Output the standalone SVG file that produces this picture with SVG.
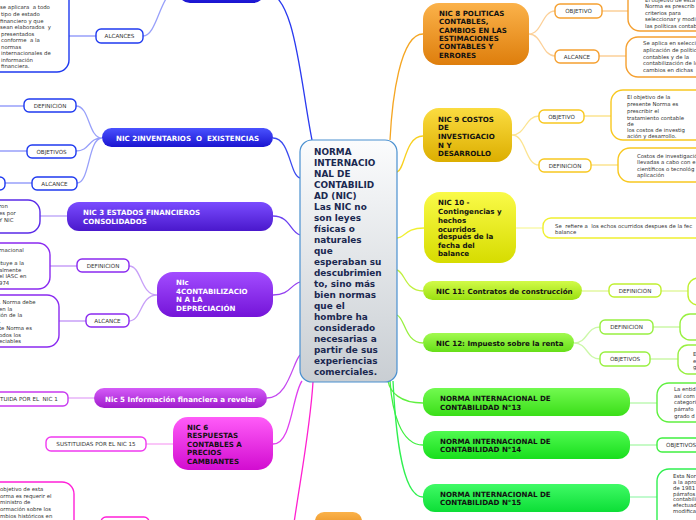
<svg xmlns="http://www.w3.org/2000/svg" width="696" height="520" viewBox="0 0 696 520">
<defs>
<linearGradient id="gC" x1="0" y1="0" x2="0" y2="1"><stop offset="0" stop-color="#fbfcfd"/><stop offset="1" stop-color="#c9ced3"/></linearGradient>
<linearGradient id="g1" x1="0" y1="0" x2="0" y2="1"><stop offset="0" stop-color="#4a52ff"/><stop offset="1" stop-color="#1a14d0"/></linearGradient>
<linearGradient id="g3" x1="0" y1="0" x2="0" y2="1"><stop offset="0" stop-color="#7a4cff"/><stop offset="1" stop-color="#4a18cc"/></linearGradient>
<linearGradient id="g4" x1="0" y1="0" x2="0" y2="1"><stop offset="0" stop-color="#a24cff"/><stop offset="1" stop-color="#7414d8"/></linearGradient>
<linearGradient id="g5" x1="0" y1="0" x2="0" y2="1"><stop offset="0" stop-color="#d45cf8"/><stop offset="1" stop-color="#a01ccc"/></linearGradient>
<linearGradient id="g6" x1="0" y1="0" x2="0" y2="1"><stop offset="0" stop-color="#ff5cf8"/><stop offset="1" stop-color="#d20cd0"/></linearGradient>
<linearGradient id="g8" x1="0" y1="0" x2="0" y2="1"><stop offset="0" stop-color="#fbb24a"/><stop offset="1" stop-color="#de7e0c"/></linearGradient>
<linearGradient id="g9" x1="0" y1="0" x2="0" y2="1"><stop offset="0" stop-color="#fbdc40"/><stop offset="1" stop-color="#dcae00"/></linearGradient>
<linearGradient id="g10" x1="0" y1="0" x2="0" y2="1"><stop offset="0" stop-color="#fafa48"/><stop offset="1" stop-color="#d6dc00"/></linearGradient>
<linearGradient id="g11" x1="0" y1="0" x2="0" y2="1"><stop offset="0" stop-color="#d2fa48"/><stop offset="1" stop-color="#9ae010"/></linearGradient>
<linearGradient id="g12" x1="0" y1="0" x2="0" y2="1"><stop offset="0" stop-color="#a2fa50"/><stop offset="1" stop-color="#66de18"/></linearGradient>
<linearGradient id="g13" x1="0" y1="0" x2="0" y2="1"><stop offset="0" stop-color="#72fa50"/><stop offset="1" stop-color="#3ade18"/></linearGradient>
<linearGradient id="g14" x1="0" y1="0" x2="0" y2="1"><stop offset="0" stop-color="#50fa50"/><stop offset="1" stop-color="#18de1c"/></linearGradient>
<linearGradient id="g15" x1="0" y1="0" x2="0" y2="1"><stop offset="0" stop-color="#40fa66"/><stop offset="1" stop-color="#0cde36"/></linearGradient>
<style>
.c{fill:none;stroke-width:1.3}
.b{fill:#fff;stroke-width:1.4}
.nt{font-family:"DejaVu Sans",Verdana,sans-serif;font-weight:bold;font-size:7.1px}
.w{fill:#fff}
.k{fill:#111}
.lt{font-family:"DejaVu Sans",Verdana,sans-serif;font-size:5.6px;fill:#333;text-anchor:middle}
.ls{text-anchor:start}
.lf{font-family:"DejaVu Sans",Verdana,sans-serif;font-size:5.4px;fill:#333}
.pre{white-space:pre}
.ct{font-family:"DejaVu Sans",Verdana,sans-serif;font-weight:bold;font-size:8.9px;fill:#1a2850}
</style>
</defs>
<rect width="696" height="520" fill="#fff"/>

<g id="connectors">
<path class="c" stroke="#2a3af0" d="M265,-8 C295,-8 300,80 312,140"/>
<path class="c" stroke="#3a4af0" d="M273,138 C290,138 290,176 300,178"/>
<path class="c" stroke="#6a40f0" d="M273,216 C290,216 290,232 300,235"/>
<path class="c" stroke="#9440f0" d="M273,295 C290,295 290,285 300,282"/>
<path class="c" stroke="#c448f0" d="M267,398 C288,398 293,362 300,355"/>
<path class="c" stroke="#e040f0" d="M273,444 C292,444 292,395 302,381"/>
<path class="c" stroke="#ff20d0" d="M313,382 C310,430 300,480 293,530"/>
<path class="c" stroke="#f5a623" d="M423,34 C400,34 392,100 390,140"/>
<path class="c" stroke="#f8d020" d="M423,136 C405,136 405,170 397,172"/>
<path class="c" stroke="#f0f030" d="M424,228 C405,228 405,238 397,238"/>
<path class="c" stroke="#c0f040" d="M423,291 C405,291 405,272 397,270"/>
<path class="c" stroke="#98f040" d="M423,343 C405,343 405,318 397,315"/>
<path class="c" stroke="#60f040" d="M423,403 C400,403 390,392 388,381"/>
<path class="c" stroke="#40f040" d="M423,445 C400,445 392,410 390,381"/>
<path class="c" stroke="#30f050" d="M423,497 C400,497 395,420 393,381"/>

<path class="c" stroke="#98a0fa" d="M143,36 C158,36 160,-10 178,-10 M69,36 L96,36"/>
<path class="c" stroke="#98a0fa" d="M102,138 C88,138 90,106 76,106 M102,138 C88,138 90,151 76,151 M102,138 C88,138 90,183 77,183 M24,106 L0,106 M27,151 L0,151 M32,183 L5,183"/>
<path class="c" stroke="#b8a0f8" d="M67,216 L40,216"/>
<path class="c" stroke="#c8a0f8" d="M157,295 C140,295 142,266 129,266 M157,295 C140,295 142,321 129,321 M77,266 L50,266 M86,321 L59,321"/>
<path class="c" stroke="#e4a8f8" d="M94,398 L68,398"/>
<path class="c" stroke="#f8a8f4" d="M173,444 L146,444"/>
<path class="c" stroke="#fcd098" d="M529,34 C542,34 542,11 555,11 M529,34 C542,34 542,56 555,56 M602,11 L628,11 M599,56 L626,56"/>
<path class="c" stroke="#fce490" d="M512,135 C526,135 525,116 539,116 M512,135 C526,135 525,165 539,165 M584,116 L611,116 M591,165 L618,165"/>
<path class="c" stroke="#f8f8a0" d="M516,228 L543,228"/>
<path class="c" stroke="#e2f8a0" d="M582,291 L609,291 M661,291 L688,291"/>
<path class="c" stroke="#ccf8a8" d="M574,343 C588,343 586,327 600,327 M574,343 C588,343 586,359 600,359 M653,327 L680,327 M650,359 L678,359"/>
<path class="c" stroke="#b4f8a8" d="M630,403 L657,403"/>
<path class="c" stroke="#a8f8a8" d="M630,445 L657,445"/>
<path class="c" stroke="#a0f8b4" d="M630,497 L657,497"/>
</g>

<g id="central">
<rect x="300" y="140" width="97" height="242" rx="12" fill="url(#gC)" stroke="#4a90d0" stroke-width="1.2"/>
<text class="ct"><tspan x="314" y="155">NORMA</tspan><tspan x="314" y="166">INTERNACIO</tspan><tspan x="314" y="177">NAL DE</tspan><tspan x="314" y="188">CONTABILID</tspan><tspan x="314" y="199">AD (NIC)</tspan><tspan x="314" y="210">Las NIC no</tspan><tspan x="314" y="221">son leyes</tspan><tspan x="314" y="232">físicas o</tspan><tspan x="314" y="243">naturales</tspan><tspan x="314" y="254">que</tspan><tspan x="314" y="265">esperaban su</tspan><tspan x="314" y="276">descubrimien</tspan><tspan x="314" y="287">to, sino más</tspan><tspan x="314" y="298">bien normas</tspan><tspan x="314" y="309">que el</tspan><tspan x="314" y="320">hombre ha</tspan><tspan x="314" y="331">considerado</tspan><tspan x="314" y="342">necesarias a</tspan><tspan x="314" y="353">partir de sus</tspan><tspan x="314" y="364">experiencias</tspan><tspan x="314" y="375">comerciales.</tspan></text>
</g>

<g id="nic1">
<rect x="178" y="-25" width="87" height="28" rx="12" fill="url(#g1)"/>
<rect class="b" x="96" y="29" width="47" height="14" rx="5" stroke="#1f3af0"/>
<text class="lt" x="119.5" y="38">ALCANCES</text>
<rect class="b" x="-40" y="-20" width="109" height="92" rx="12" stroke="#1f3af0"/>
<text class="lf pre"><tspan x="0" y="9">se aplicara  a todo</tspan><tspan x="1" y="16">tipo de estado</tspan><tspan x="0" y="23">financiero y que</tspan><tspan x="0" y="29">sean elaborados  y</tspan><tspan x="1" y="35.5">presentados</tspan><tspan x="1" y="42">conforme  a la</tspan><tspan x="1" y="49">normas</tspan><tspan x="1" y="55">internacionales de</tspan><tspan x="1" y="62">información</tspan><tspan x="1" y="68">financiera.</tspan></text>
</g>

<g id="nic2">
<rect x="102" y="128" width="171" height="19" rx="9.5" fill="url(#g1)"/>
<text class="nt w pre" x="187.5" y="141" text-anchor="middle">NIC 2INVENTARIOS  O  EXISTENCIAS</text>
<rect class="b" x="24" y="99" width="52" height="13" rx="5" stroke="#1f3af0"/>
<text class="lt" x="50" y="107.5">DEFINICION</text>
<rect class="b" x="27" y="145" width="49" height="13" rx="5" stroke="#1f3af0"/>
<text class="lt" x="51.5" y="153.5">OBJETIVOS</text>
<rect class="b" x="32" y="177" width="45" height="13" rx="5" stroke="#1f3af0"/>
<text class="lt" x="54.5" y="185.5">ALCANCE</text>
<rect class="b" x="-40" y="177" width="45" height="13" rx="5" stroke="#1f3af0"/>
</g>

<g id="nic3">
<rect x="67" y="202" width="206" height="29" rx="12" fill="url(#g3)"/>
<text class="nt w"><tspan x="83" y="215">NIC 3 ESTADOS FINANCIEROS</tspan><tspan x="83" y="224">CONSOLIDADOS</tspan></text>
<rect class="b" x="-60" y="200" width="100" height="33" rx="12" stroke="#5a2ae8"/>
<text class="lf"><tspan x="-1" y="208">ron</tspan><tspan x="-1" y="215">es por</tspan><tspan x="-1" y="222">Y NIC</tspan></text>
</g>

<g id="nic4">
<rect x="157" y="272" width="116" height="45" rx="16" fill="url(#g4)"/>
<text class="nt w"><tspan x="176" y="285">NIc</tspan><tspan x="176" y="293.6">4CONTABILIZACIO</tspan><tspan x="176" y="302">N A LA</tspan><tspan x="176" y="311">DEPRECIACIÓN</tspan></text>
<rect class="b" x="77" y="259" width="52" height="13" rx="5" stroke="#8a2af0"/>
<text class="lt" x="103" y="267.5">DEFINICION</text>
<rect class="b" x="86" y="314" width="43" height="13" rx="5" stroke="#8a2af0"/>
<text class="lt" x="107.5" y="322.5">ALCANCE</text>
<rect class="b" x="-60" y="243" width="110" height="46" rx="12" stroke="#8a2af0"/>
<text class="lf"><tspan x="-1" y="252">rnacional</tspan><tspan x="-1" y="265">ituye a la</tspan><tspan x="-1" y="272">almente</tspan><tspan x="-1" y="278">el IASC en</tspan><tspan x="-1" y="285">974</tspan></text>
<rect class="b" x="-60" y="295" width="119" height="52" rx="12" stroke="#8a2af0"/>
<text class="lf"><tspan x="-1" y="304">. Norma debe</tspan><tspan x="-1" y="311">en la</tspan><tspan x="-1" y="317">ión de la</tspan><tspan x="-1" y="323">.</tspan><tspan x="-1" y="330">te Norma es</tspan><tspan x="-1" y="337">odos los</tspan><tspan x="-1" y="343">eciables</tspan></text>
</g>

<g id="nic5">
<rect x="94" y="388" width="173" height="20" rx="10" fill="url(#g5)"/>
<text class="nt w" x="180.5" y="401.5" text-anchor="middle">Nic 5 Información financiera a revelar</text>
<rect class="b" x="-40" y="392" width="108" height="14" rx="5" stroke="#c83af0"/>
<text class="lt ls pre" x="0" y="401">TUIDA POR EL  NIC 1</text>
</g>

<g id="nic6">
<rect x="173" y="417" width="100" height="53" rx="15" fill="url(#g6)"/>
<text class="nt k"><tspan x="187" y="430">NIC 6</tspan><tspan x="187" y="438.3">RESPUESTAS</tspan><tspan x="187" y="447">CONTABLES A</tspan><tspan x="187" y="455.3">PRECIOS</tspan><tspan x="187" y="464">CAMBIANTES</tspan></text>
<rect class="b" x="46" y="437" width="100" height="14" rx="5" stroke="#f03af0"/>
<text class="lt" x="96" y="446">SUSTITUIDAS POR EL NIC 15</text>
</g>

<g id="nic7">
<rect class="b" x="-40" y="482" width="114" height="60" rx="12" stroke="#ff20d8"/>
<text class="lf"><tspan x="0" y="491">objetivo de esta</tspan><tspan x="0" y="498">orma es requerir el</tspan><tspan x="0" y="504">ministro de</tspan><tspan x="0" y="511">ormación sobre los</tspan><tspan x="0" y="518">mbios históricos en</tspan></text>
<rect class="b" x="101" y="517" width="48" height="14" rx="5" stroke="#ff20d8"/>
</g>

<g id="nic-bottom">
<rect x="315" y="512" width="47" height="25" rx="9" fill="url(#g8)"/>
</g>

<g id="nic8">
<rect x="423" y="3" width="106" height="62" rx="16" fill="url(#g8)"/>
<text class="nt k"><tspan x="439" y="16">NIC 8 POLITICAS</tspan><tspan x="439" y="24.3">CONTABLES,</tspan><tspan x="439" y="32.7">CAMBIOS EN LAS</tspan><tspan x="439" y="41">ESTIMACIONES</tspan><tspan x="439" y="49.3">CONTABLES Y</tspan><tspan x="439" y="58">ERRORES</tspan></text>
<rect class="b" x="555" y="4" width="47" height="14" rx="5" stroke="#f5a030"/>
<text class="lt" x="578.5" y="13">OBJETIVO</text>
<rect class="b" x="555" y="50" width="44" height="13" rx="5" stroke="#f5a030"/>
<text class="lt" x="577" y="58.5">ALCANCE</text>
<rect class="b" x="628" y="-20" width="100" height="51" rx="12" stroke="#f5a030"/>
<text class="lf"><tspan x="645" y="2">El objetivo de esta</tspan><tspan x="645" y="8">Norma es prescrib</tspan><tspan x="645" y="14.5">criterios para</tspan><tspan x="645" y="21">seleccionar y modi</tspan><tspan x="645" y="27.5">las políticas contab</tspan></text>
<rect class="b" x="626" y="37" width="100" height="40" rx="12" stroke="#f5a030"/>
<text class="lf"><tspan x="643" y="45">Se aplica en selecci</tspan><tspan x="643" y="52">aplicación de polític</tspan><tspan x="643" y="58.5">contables y de la</tspan><tspan x="643" y="65">contabilización de lo</tspan><tspan x="643" y="72">cambios en dichas</tspan></text>
</g>

<g id="nic9">
<rect x="423" y="108" width="89" height="54" rx="16" fill="url(#g9)"/>
<text class="nt k"><tspan x="438" y="122">NIC 9 COSTOS</tspan><tspan x="438" y="130.3">DE</tspan><tspan x="438" y="139.3">INVESTIGACIO</tspan><tspan x="438" y="147.7">N Y</tspan><tspan x="438" y="156">DESARROLLO</tspan></text>
<rect class="b" x="539" y="110" width="45" height="13" rx="5" stroke="#f8c820"/>
<text class="lt" x="561.5" y="118.5">OBJETIVO</text>
<rect class="b" x="539" y="159" width="52" height="13" rx="5" stroke="#f8c820"/>
<text class="lt" x="565" y="167.5">DEFINICION</text>
<rect class="b" x="611" y="90" width="110" height="50" rx="12" stroke="#f8c820"/>
<text class="lf"><tspan x="627" y="99">El objetivo de la</tspan><tspan x="627" y="106">presente Norma es</tspan><tspan x="627" y="112.5">prescribir el</tspan><tspan x="627" y="119.5">tratamiento contable</tspan><tspan x="627" y="125.5">de</tspan><tspan x="627" y="132">los costos de investig</tspan><tspan x="627" y="138">ación y desarrollo.</tspan></text>
<rect class="b" x="618" y="148" width="100" height="34" rx="12" stroke="#f8c820"/>
<text class="lf"><tspan x="637" y="158">Costos de investigació</tspan><tspan x="637" y="164">llevadas a cabo con e</tspan><tspan x="637" y="171">científicos o tecnológ</tspan><tspan x="637" y="177">aplicación</tspan></text>
</g>

<g id="nic10">
<rect x="424" y="192" width="92" height="71" rx="16" fill="url(#g10)"/>
<text class="nt k"><tspan x="438" y="205">NIC 10 -</tspan><tspan x="438" y="214.3">Contingencias y</tspan><tspan x="438" y="222.7">hechos</tspan><tspan x="438" y="231.7">ocurridos</tspan><tspan x="438" y="239.3">después de la</tspan><tspan x="438" y="248.3">fecha del</tspan><tspan x="438" y="256">balance</tspan></text>
<rect class="b" x="543" y="218" width="180" height="20" rx="8" stroke="#f0f030"/>
<text class="lf pre"><tspan x="555" y="227.5">Se  refiere a  los echos ocurridos despues de la fec</tspan><tspan x="555" y="233.5">balance</tspan></text>
</g>

<g id="nic11">
<rect x="423" y="281" width="159" height="19" rx="9.5" fill="url(#g11)"/>
<text class="nt k" x="436" y="293.6">NIC 11: Contratos de construcción</text>
<rect class="b" x="609" y="284" width="52" height="13" rx="5" stroke="#c0f030"/>
<text class="lt" x="635" y="292.5">DEFINICION</text>
<rect class="b" x="688" y="278" width="40" height="27" rx="10" stroke="#c0f030"/>
</g>

<g id="nic12">
<rect x="423" y="333" width="151" height="19" rx="9.5" fill="url(#g12)"/>
<text class="nt k" x="436" y="346">NIC 12: Impuesto sobre la renta</text>
<rect class="b" x="600" y="320" width="53" height="14" rx="5" stroke="#98f040"/>
<text class="lt" x="626.5" y="329">DEFINICION</text>
<rect class="b" x="600" y="352" width="50" height="14" rx="5" stroke="#98f040"/>
<text class="lt" x="625" y="361">OBJETIVOS</text>
<rect class="b" x="680" y="314" width="40" height="26" rx="10" stroke="#98f040"/>
<rect class="b" x="678" y="345" width="40" height="29" rx="10" stroke="#98f040"/>
<text class="lf"><tspan x="693" y="356">E</tspan><tspan x="693" y="363">e</tspan><tspan x="693" y="369">g</tspan></text>
</g>

<g id="nic13">
<rect x="423" y="388" width="207" height="28" rx="12" fill="url(#g13)"/>
<text class="nt k"><tspan x="440" y="401">NORMA INTERNACIONAL DE</tspan><tspan x="440" y="410">CONTABILIDAD N°13</tspan></text>
<rect class="b" x="657" y="383" width="60" height="39" rx="12" stroke="#60f040"/>
<text class="lf"><tspan x="674" y="391">La entid</tspan><tspan x="674" y="397.5">así com</tspan><tspan x="674" y="404">categori</tspan><tspan x="674" y="411">párrafo</tspan><tspan x="674" y="418">grado d</tspan></text>
</g>

<g id="nic14">
<rect x="423" y="431" width="207" height="28" rx="12" fill="url(#g14)"/>
<text class="nt k"><tspan x="440" y="443.6">NORMA INTERNACIONAL DE</tspan><tspan x="440" y="452">CONTABILIDAD N°14</tspan></text>
<rect class="b" x="657" y="438" width="50" height="14" rx="5" stroke="#40f040"/>
<text class="lt ls" x="666" y="447">OBJETIVOS</text>
</g>

<g id="nic15">
<rect x="423" y="484" width="207" height="28" rx="12" fill="url(#g15)"/>
<text class="nt k"><tspan x="440" y="497">NORMA INTERNACIONAL DE</tspan><tspan x="440" y="505.3">CONTABILIDAD N°15</tspan></text>
<rect class="b" x="657" y="469" width="60" height="70" rx="12" stroke="#30f050"/>
<text class="lf"><tspan x="673" y="478">Esta Nor</tspan><tspan x="673" y="484">a la apro</tspan><tspan x="673" y="489.5">de 1981</tspan><tspan x="673" y="495.5">párrafos</tspan><tspan x="673" y="501">contabili</tspan><tspan x="673" y="507">efectuad</tspan><tspan x="673" y="512.5">modifica</tspan></text>
</g>
</svg>
